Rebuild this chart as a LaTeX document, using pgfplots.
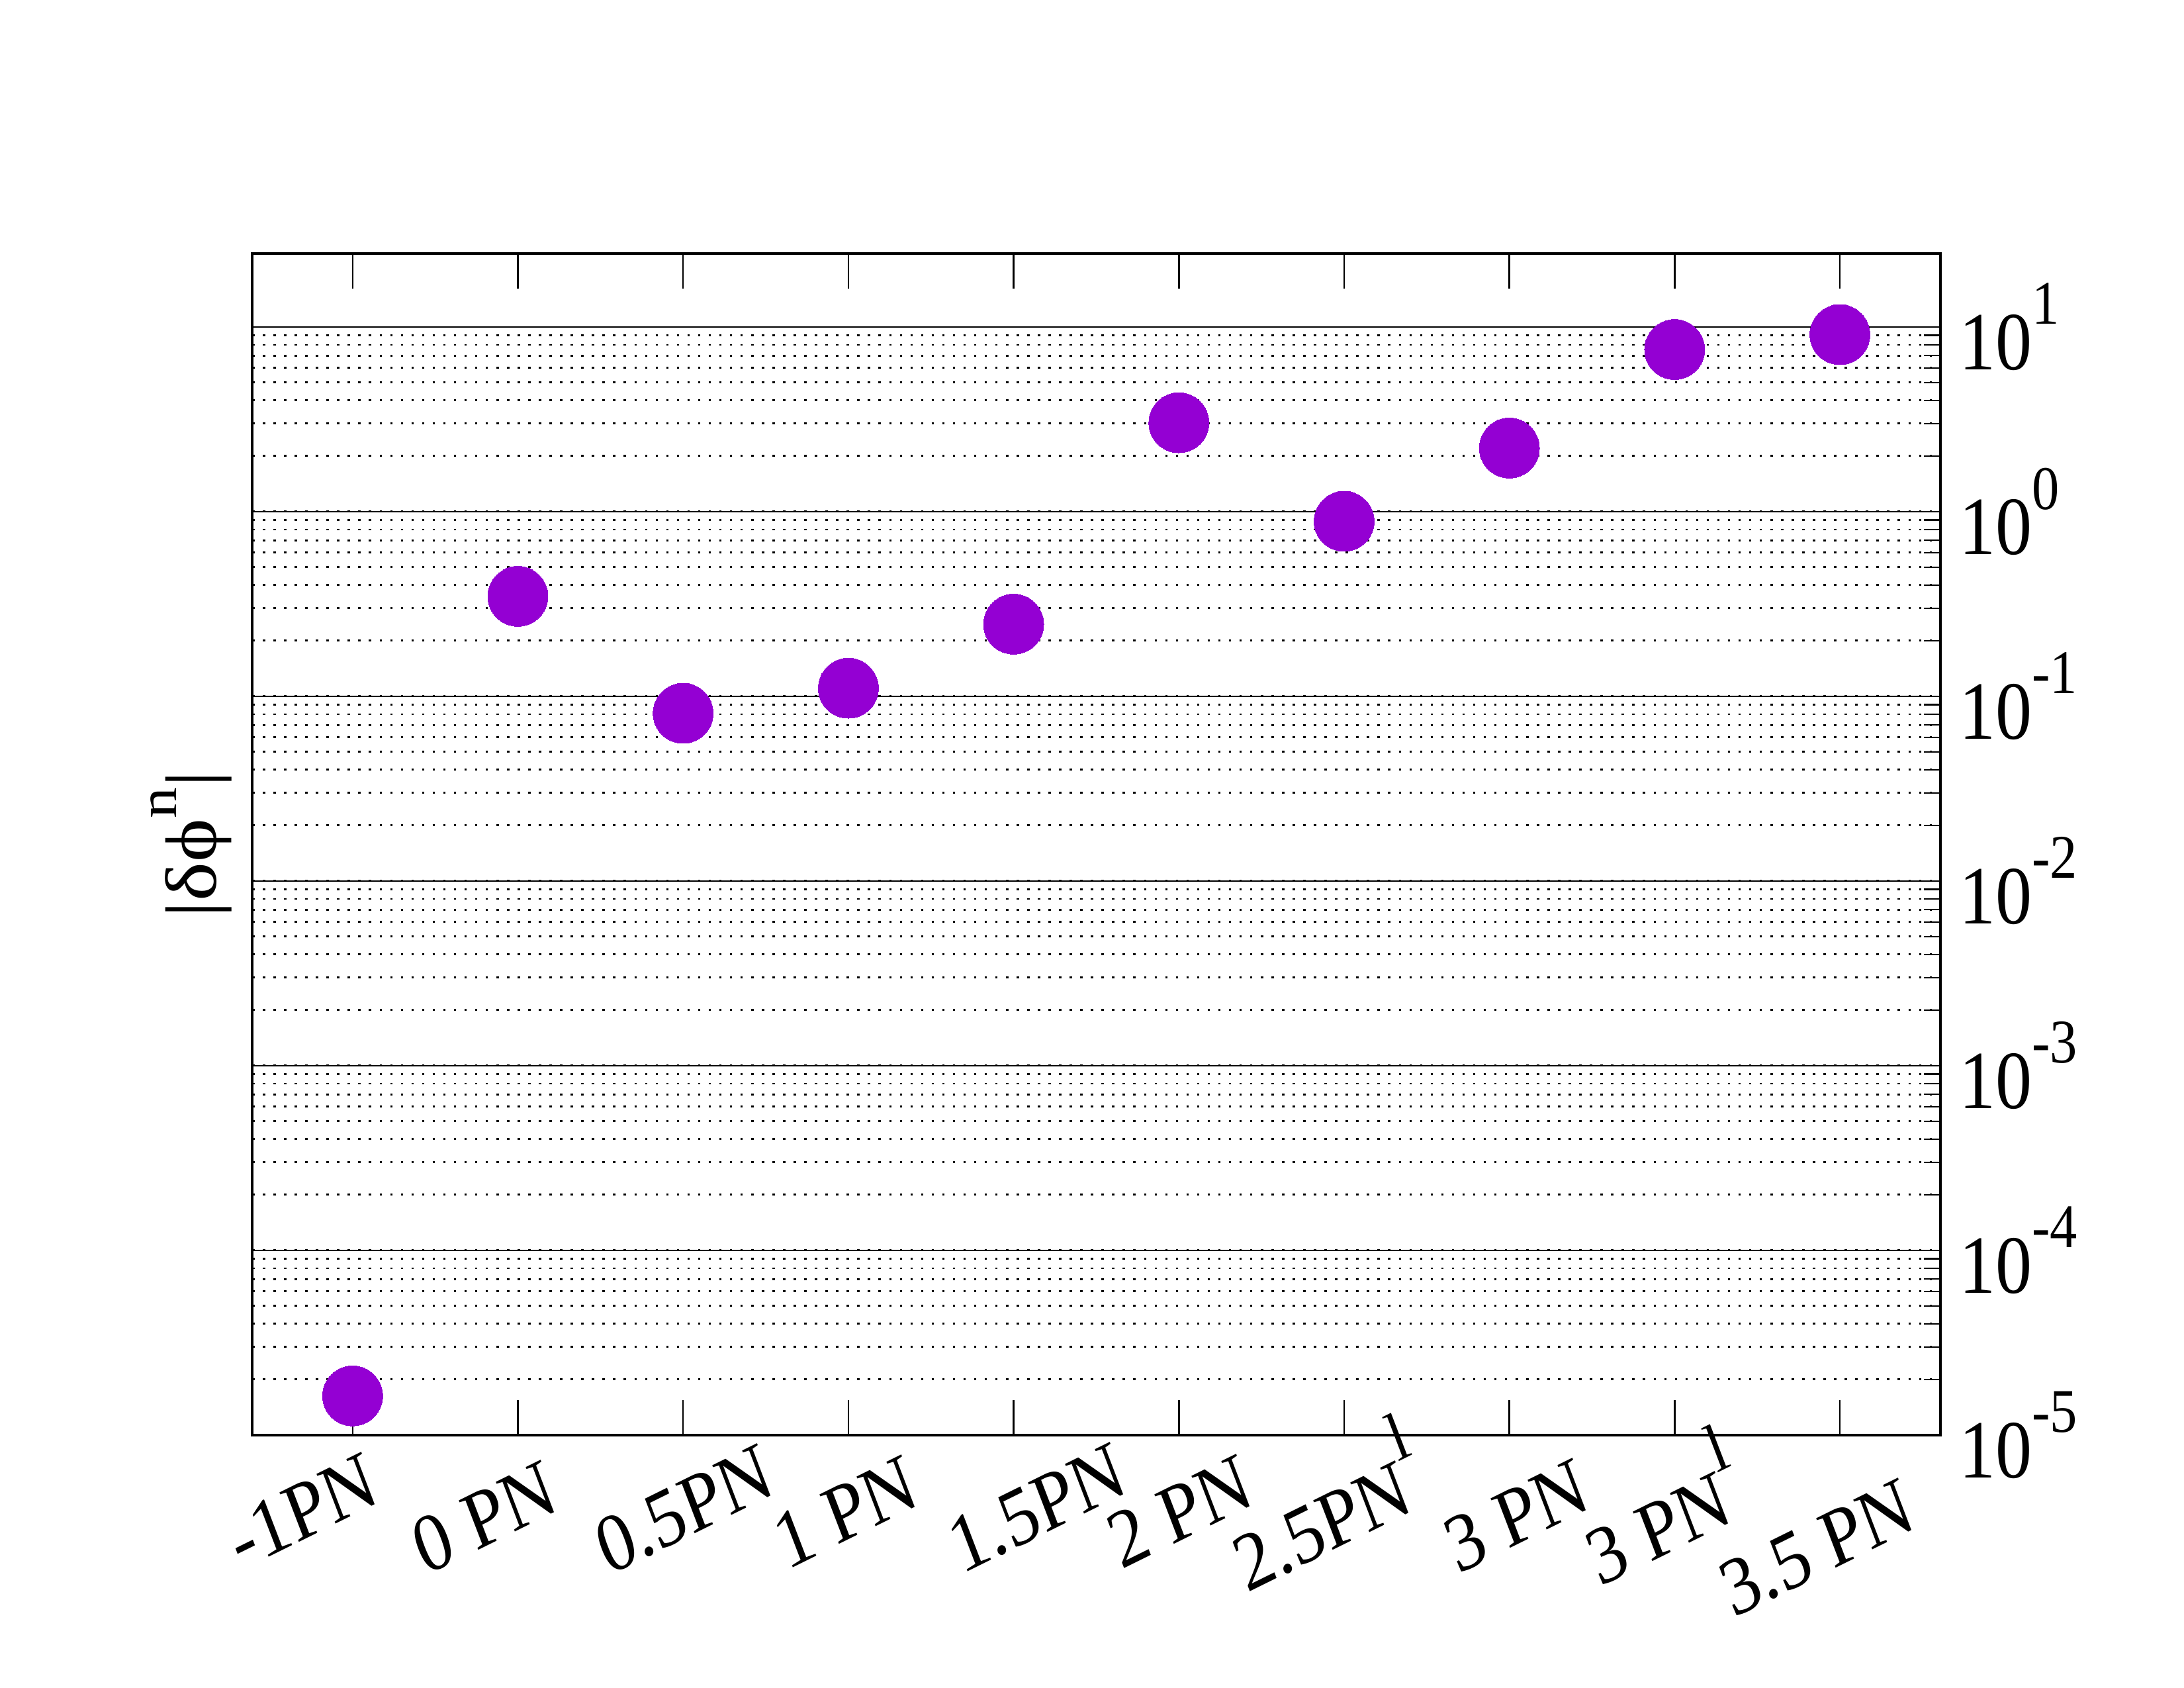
\documentclass[border=0pt]{standalone}
\usepackage{pgfplots}
\pgfplotsset{compat=1.18}
\usepackage{fontspec}
\setmainfont{Liberation Serif}
\definecolor{pv}{RGB}{148,0,211}
\newcommand\sups[1]{\raisebox{0.55em}{\fontsize{22.5}{24}\selectfont #1}}
\newcommand\supl[1]{\raisebox{0.62em}{\fontsize{25}{26}\selectfont #1}}
\newcommand\lab[3]{\makebox[0pt]{\kern#1\raisebox{-#2}{#3}\kern-#1}}
\begin{document}
\fontsize{30}{36}\selectfont
\begin{tikzpicture}
\useasboundingbox (-91.44pt,-91.7pt) rectangle (700.56pt,520.3pt);
\begin{axis}[
  at={(0pt,0pt)}, anchor=south west,
  scale only axis, width=612.2pt, height=428.4pt,
  xmin=-0.608, xmax=9.608,
  ymode=log, ymin=1e-5, ymax=25,
  axis line style={line width=0.85pt, black},
  xtick={0,1,2,3,4,5,6,7,8,9},
  xticklabels={
    {\lab{-30.1pt}{26.8pt}{-1PN}},
    {\lab{-24.6pt}{31.7pt}{0 PN}},
    {\lab{-10.4pt}{34.6pt}{0.5PN}},
    {\lab{-12.3pt}{34.9pt}{1 PN}},
    {\lab{-1.8pt}{37.9pt}{1.5PN}},
    {\lab{-10.7pt}{35.5pt}{2 PN}},
    {\lab{-18.0pt}{36.5pt}{2.5PN\supl{l}}},
    {\lab{-9.1pt}{37.8pt}{3 PN}},
    {\lab{-16.3pt}{38.3pt}{3 PN\supl{l}}},
    {\lab{-25.0pt}{43.5pt}{3.5 PN}}},
  xtick pos=both, xticklabel pos=bottom,
  xticklabel style={anchor=base, inner sep=0pt, xscale=0.88, rotate=23.5},
  ytick={1e-5,1e-4,1e-3,1e-2,1e-1,1,10},
  yticklabels={10\sups{-5},10\sups{-4},10\sups{-3},10\sups{-2},10\sups{-1},10\sups{0},10\sups{1}},
  ytick pos=right, yticklabel pos=right,
  yticklabel style={anchor=west, inner xsep=7.6pt, xscale=0.88},
  tick align=inside,
  major tick length=12.7pt, minor tick length=6pt,
  tick style={black, line width=0.6pt},
  ymajorgrids=true, yminorgrids=true, xmajorgrids=false,
  major grid style={solid, black, line width=0.65pt},
  minor grid style={black, line width=0.7pt, dash pattern=on 0.85pt off 3pt},
  ylabel={|δϕ\sups{n}|},
  every axis y label/.style={at={(axis description cs:0,0.5)}, anchor=base, xshift=-13pt, xscale=0.88, rotate=90},
  clip=false,
]
\addplot[only marks, mark=*, mark size=10.9pt, mark options={fill=pv, draw=pv, line width=0pt}]
  coordinates {
  (0,1.63e-5)
  (1,0.348)
  (2,0.081)
  (3,0.1107)
  (4,0.246)
  (5,3.03)
  (6,0.887)
  (7,2.21)
  (8,7.55)
  (9,9.09)
  };
\end{axis}
\end{tikzpicture}
\end{document}
